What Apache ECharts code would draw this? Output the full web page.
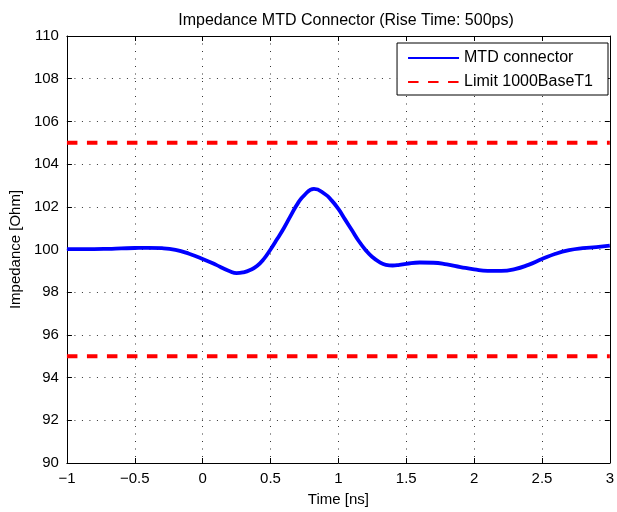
<!DOCTYPE html>
<html>
<head>
<meta charset="utf-8">
<script src="https://cdn.jsdelivr.net/npm/echarts@6/dist/echarts.min.js"></script>
<style>
  html, body { margin: 0; padding: 0; background: #fff; }
  #main { width: 617px; height: 512px; }
</style>
</head>
<body>
<div id="main"></div>
<script>
// impedance curve
var times = [-1, -0.9, -0.8, -0.7, -0.6, -0.5, -0.4, -0.3, -0.2, -0.1,
    0, 0.1, 0.15, 0.2, 0.25, 0.3, 0.35, 0.4, 0.45, 0.5, 0.55, 0.6, 0.65, 0.7, 0.75,
    0.82, 0.9, 0.95, 1.0, 1.05, 1.1, 1.15, 1.2, 1.25, 1.3, 1.35, 1.4, 1.45, 1.5,
    1.6, 1.7, 1.8, 1.9, 2.0, 2.1, 2.2, 2.3, 2.4, 2.5, 2.6, 2.7, 2.8, 2.9, 3.0];
var impedance = [100.02, 100.02, 100.02, 100.03, 100.05, 100.07, 100.08, 100.06, 99.98, 99.8,
    99.56, 99.28, 99.12, 98.98, 98.89, 98.93, 99.04, 99.23, 99.55, 100.0, 100.5, 101.02, 101.6, 102.15, 102.55,
    102.84, 102.6, 102.3, 101.9, 101.4, 100.9, 100.4, 99.98, 99.65, 99.42, 99.28, 99.25, 99.28, 99.33,
    99.39, 99.38, 99.3, 99.18, 99.07, 99.0, 99.0, 99.08, 99.28, 99.55, 99.8, 99.97, 100.06, 100.11, 100.18];
var limitUpper = 105;
var limitLower = 95;
var xTicks = [-1, 3, 0.5];
var yTicks = [90, 110, 2];

var font = 'Liberation Sans, Arial, sans-serif';

var dom = document.getElementById("main");
var myChart = echarts.init(dom);

var curve = times.map(function (t, i) { return [t, impedance[i]]; });
var upper = [[xTicks[0], limitUpper], [xTicks[1], limitUpper]];
var lower = [[xTicks[0], limitLower], [xTicks[1], limitLower]];

var gridLine = { show: true, lineStyle: { color: '#333', type: [1, 6.5], width: 1 } };
var boxLine = { show: true, onZero: false, lineStyle: { color: '#000' } };
var innerTick = { show: true, inside: true, length: 5, lineStyle: { color: '#000' } };

var option = {
    animation: false,
    backgroundColor: '#fff',
    textStyle: { fontFamily: font },
    title: {
        text: 'Impedance MTD Connector (Rise Time: 500ps)',
        left: 341,
        textAlign: 'center',
        top: 8,
        textStyle: { fontSize: 16, fontWeight: 'normal', color: '#000', fontFamily: font }
    },
    grid: { left: 65, right: 6, top: 36, bottom: 46 },
    legend: {
        right: 9,
        top: 43,
        orient: 'vertical',
        align: 'left',
        itemWidth: 51,
        itemHeight: 14,
        itemGap: 8,
        padding: [7, 15, 5, 10],
        borderColor: '#000',
        borderWidth: 1,
        borderRadius: 0,
        backgroundColor: '#fff',
        itemStyle: { opacity: 0 },
        textStyle: { fontSize: 16, color: '#000', fontFamily: font },
        data: ['MTD connector', 'Limit 1000BaseT1']
    },
    xAxis: [{
        type: 'value',
        min: xTicks[0], max: xTicks[1], interval: xTicks[2],
        name: 'Time [ns]',
        nameLocation: 'middle',
        nameGap: 29,
        nameTextStyle: { fontSize: 15, color: '#000', fontFamily: font },
        axisLine: boxLine,
        axisTick: innerTick,
        axisLabel: {
            fontSize: 15, color: '#000', margin: 8, fontFamily: font,
            formatter: function (v) { return v < 0 ? '\u2212' + Math.abs(v) : String(v); }
        },
        splitLine: gridLine
    }, {
        type: 'value', position: 'top',
        min: xTicks[0], max: xTicks[1], interval: xTicks[2],
        axisLine: boxLine,
        axisTick: innerTick,
        axisLabel: { show: false },
        splitLine: { show: false }
    }],
    yAxis: [{
        type: 'value',
        min: yTicks[0], max: yTicks[1], interval: yTicks[2],
        name: 'Impedance [Ohm]',
        nameLocation: 'middle',
        nameGap: 40,
        nameTextStyle: { fontSize: 15, color: '#000', fontFamily: font },
        axisLine: boxLine,
        axisTick: innerTick,
        axisLabel: { fontSize: 15, color: '#000', margin: 8, fontFamily: font },
        splitLine: gridLine
    }, {
        type: 'value', position: 'right',
        min: yTicks[0], max: yTicks[1], interval: yTicks[2],
        axisLine: boxLine,
        axisTick: innerTick,
        axisLabel: { show: false },
        splitLine: { show: false }
    }],
    series: [
        {
            name: 'MTD connector',
            type: 'line',
            data: curve,
            smooth: true,
            showSymbol: false,
            symbol: 'none',
            lineStyle: { color: '#0000ff', width: 3.8 },
            itemStyle: { color: '#0000ff' }
        },
        {
            name: 'Limit 1000BaseT1',
            type: 'line',
            data: upper,
            showSymbol: false,
            symbol: 'none',
            lineStyle: { color: '#ff0000', width: 3.8, type: [10.5, 9.5] },
            itemStyle: { color: '#ff0000' }
        },
        {
            name: 'Limit 1000BaseT1',
            type: 'line',
            data: lower,
            showSymbol: false,
            symbol: 'none',
            lineStyle: { color: '#ff0000', width: 3.8, type: [10.5, 9.5] },
            itemStyle: { color: '#ff0000' }
        }
    ]
};

if (option && typeof option === "object") {
    myChart.setOption(option, true);
}
</script>
</body>
</html>
